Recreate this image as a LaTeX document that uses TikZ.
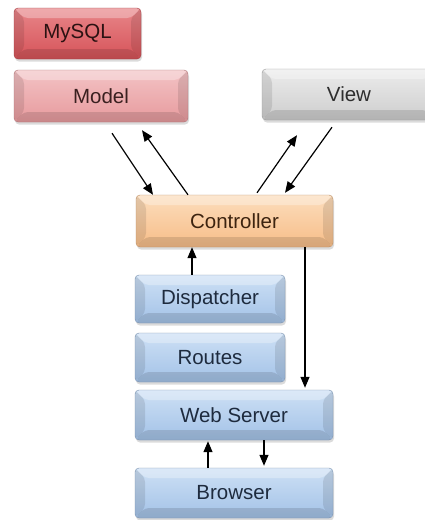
\documentclass[tikz,border=0pt]{standalone}
\usepackage{fontspec}
\setmainfont{Liberation Sans}
\usetikzlibrary{arrows.meta,shadows}

\definecolor{sqlbase}{HTML}{D65358}\definecolor{sqltop}{HTML}{E8868A}\definecolor{sqltxt}{HTML}{2B1212}
\definecolor{mdlbase}{HTML}{E79A9D}\definecolor{mdltop}{HTML}{F3C3C5}\definecolor{mdltxt}{HTML}{3A2020}
\definecolor{vwbase}{HTML}{CDCDCD}\definecolor{vwtop}{HTML}{ECECEC}\definecolor{vwtxt}{HTML}{2E2E2E}
\definecolor{ctlbase}{HTML}{F7BD88}\definecolor{ctltop}{HTML}{FCDDBC}\definecolor{ctltxt}{HTML}{3D2410}
\definecolor{blubase}{HTML}{A3C2E7}\definecolor{blutop}{HTML}{CDE0F5}\definecolor{blutxt}{HTML}{1E2B3E}

\tikzset{
  bevel/.style n args={3}{
    rounded corners=4pt, inner sep=0pt,
    top color=#2, bottom color=#1, draw=#1!75!black, line width=0.4pt,
    text=#3, font=\fontsize{20.5}{22}\selectfont,
    drop shadow={opacity=0.28, shadow xshift=1pt, shadow yshift=-2.5pt},
    path picture={
      \fill[black,opacity=0.10]
        (path picture bounding box.north west)
        -- ([shift={(10pt,-10pt)}]path picture bounding box.north west)
        -- ([shift={(10pt,10pt)}]path picture bounding box.south west)
        -- (path picture bounding box.south west) -- cycle;
      \fill[black,opacity=0.10]
        (path picture bounding box.north east)
        -- ([shift={(-10pt,-10pt)}]path picture bounding box.north east)
        -- ([shift={(-10pt,10pt)}]path picture bounding box.south east)
        -- (path picture bounding box.south east) -- cycle;
      \fill[white,opacity=0.30]
        (path picture bounding box.north west)
        -- ([shift={(10pt,-10pt)}]path picture bounding box.north west)
        -- ([shift={(-10pt,-10pt)}]path picture bounding box.north east)
        -- (path picture bounding box.north east) -- cycle;
      \fill[black,opacity=0.12]
        (path picture bounding box.south west)
        -- ([shift={(10pt,10pt)}]path picture bounding box.south west)
        -- ([shift={(-10pt,10pt)}]path picture bounding box.south east)
        -- (path picture bounding box.south east) -- cycle;
    }
  },
  redbox/.style={bevel={sqlbase}{sqltop}{sqltxt}},
  pinkbox/.style={bevel={mdlbase}{mdltop}{mdltxt}},
  greybox/.style={bevel={vwbase}{vwtop}{vwtxt}},
  orangebox/.style={bevel={ctlbase}{ctltop}{ctltxt}},
  bluebox/.style={bevel={blubase}{blutop}{blutxt}},
  flow/.style={draw=black, line width=1.2pt,
    -{Triangle[length=11pt,width=9pt]}},
}

\begin{document}
\begin{tikzpicture}[x=1pt,y=-1pt]
  \useasboundingbox (0,0) rectangle (425,520);
  \clip (0,0) rectangle (425,520);
  \fill[white] (0,0) rectangle (425,520);

  % upper layer: data, model and view
  \node[redbox,   minimum width=127pt, minimum height=51pt] (mysql) at (77.5,33.5) {MySQL};
  \node[pinkbox,  minimum width=174pt, minimum height=52pt] (model) at (101,96) {Model};
  \node[greybox,  minimum width=174pt, minimum height=51pt] (view)  at (349,94.5) {View};

  % controller and request pipeline
  \node[orangebox, minimum width=197pt, minimum height=52pt] (ctrl)   at (234.5,221) {Controller};
  \node[bluebox,   minimum width=150pt, minimum height=48pt] (disp)   at (210,299)   {Dispatcher};
  \node[bluebox,   minimum width=150pt, minimum height=49pt] (routes) at (210,357.5) {Routes};
  \node[bluebox,   minimum width=198pt, minimum height=50pt] (web)    at (234,415)   {Web Server};
  \node[bluebox,   minimum width=198pt, minimum height=50pt] (brow)   at (234,493)   {Browser};

  % model <-> controller
  \draw[flow] ([shift={(11pt,-11pt)}]model.south) -- ([xshift=-81.5pt]ctrl.north);
  \draw[flow] ([xshift=-46.5pt]ctrl.north) -- ([shift={(41pt,-8pt)}]model.south);

  % controller <-> view
  \draw[flow] ([shift={(22.5pt,2pt)}]ctrl.north) -- ([shift={(-52pt,-15pt)}]view.south);
  \draw[flow] ([shift={(-17pt,-7pt)}]view.south) -- ([shift={(50.5pt,2pt)}]ctrl.north);

  % dispatcher up to controller, controller down to web server
  \draw[flow] ([xshift=-18pt]disp.north) -- ([xshift=-42.5pt]ctrl.south);
  \draw[flow] ([xshift=70.5pt]ctrl.south) -- ([shift={(71pt,2pt)}]web.north);

  % browser <-> web server
  \draw[flow] ([xshift=-26pt]brow.north) -- ([shift={(-26pt,-1pt)}]web.south);
  \draw[flow] ([xshift=30pt]web.south) -- ([shift={(30pt,2pt)}]brow.north);
\end{tikzpicture}
\end{document}
